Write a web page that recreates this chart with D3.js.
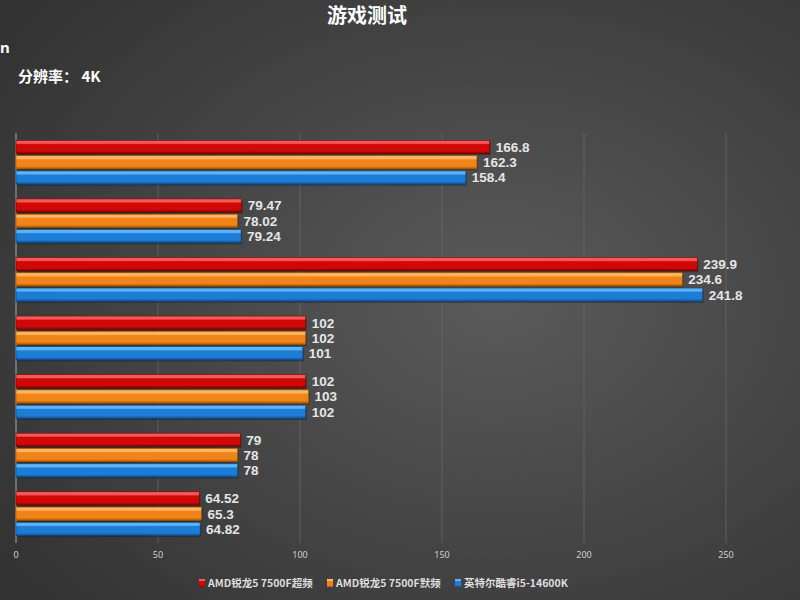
<!DOCTYPE html>
<html>
<head>
<meta charset="utf-8">
<script src="https://cdn.jsdelivr.net/npm/d3@7"></script>
<style>
  html, body { margin: 0; padding: 0; background: #3a3a3a; }
  svg { display: block; }
</style>
</head>
<body>
<div id="chart"></div>
<script>
// category labels sit outside the visible crop of the original
const categories = ["g1", "g2", "g3", "g4", "g5", "g6", "g7"];
const seriesNames = ["AMD锐龙5 7500F超频", "AMD锐龙5 7500F默频", "英特尔酷睿i5-14600K"];
const overclocked = [166.8, 79.47, 239.9, 102, 102, 79, 64.52];
const stock = [162.3, 78.02, 234.6, 102, 103, 78, 65.3];
const intel = [158.4, 79.24, 241.8, 101, 102, 78, 64.82];
const xTicks = [0, 50, 100, 150, 200, 250];

const width = 800, height = 600;
const colors = [
    { hi: "#f25a5a", main: "#d00808", low: "#7e0000" },
    { hi: "#ffb560", main: "#f08418", low: "#a85400" },
    { hi: "#5cb4f5", main: "#1c7cd6", low: "#0c4a8a" }
];

const svg = d3.select("#chart").append("svg")
    .attr("width", width)
    .attr("height", height);

const defs = svg.append("defs");

const bg = defs.append("radialGradient")
    .attr("id", "bg")
    .attr("cx", "0.62").attr("cy", "0.5").attr("r", "0.75");
bg.append("stop").attr("offset", "0").attr("stop-color", "#5a5a5a");
bg.append("stop").attr("offset", "1").attr("stop-color", "#333333");

colors.forEach((c, i) => {
    let g = defs.append("linearGradient")
        .attr("id", "bar" + i)
        .attr("x1", 0).attr("y1", 0).attr("x2", 0).attr("y2", 1);
    g.append("stop").attr("offset", "0").attr("stop-color", c.hi);
    g.append("stop").attr("offset", "0.22").attr("stop-color", c.hi);
    g.append("stop").attr("offset", "0.32").attr("stop-color", c.main);
    g.append("stop").attr("offset", "0.8").attr("stop-color", c.main);
    g.append("stop").attr("offset", "1").attr("stop-color", c.low);
});

svg.append("rect")
    .attr("width", width)
    .attr("height", height)
    .attr("fill", "url(#bg)");

const x = d3.scaleLinear()
    .domain([0, 250])
    .range([16, 726]);

const y = d3.scaleBand()
    .domain(categories)
    .range([133, 543])
    .paddingInner(0.25)
    .paddingOuter(0.125);

const ySub = d3.scaleBand()
    .domain(d3.range(seriesNames.length))
    .range([0, y.bandwidth()])
    .paddingInner(0.13);

// grid
svg.append("g")
    .selectAll(null)
    .data(xTicks.filter(t => t > 0))
    .join("line")
    .attr("x1", d => x(d)).attr("x2", d => x(d))
    .attr("y1", 133).attr("y2", 543)
    .attr("stroke", "#686868")
    .attr("stroke-width", 0.8);

svg.append("line")
    .attr("x1", x(0)).attr("x2", x(0))
    .attr("y1", 133).attr("y2", 543)
    .attr("stroke", "#a8a8a8")
    .attr("stroke-width", 1);

// tick labels
svg.append("g")
    .selectAll(null)
    .data(xTicks)
    .join("text")
    .attr("x", d => x(d))
    .attr("y", 558)
    .attr("text-anchor", "middle")
    .attr("font-family", "Noto Sans, sans-serif")
    .attr("font-size", 9)
    .attr("fill", "#cfcfcf")
    .text(d => d);

const series = [overclocked, stock, intel];
const rows = [];
categories.forEach((cat, ci) => {
    series.forEach((vals, si) => rows.push({ cat, si, value: vals[ci] }));
});

const bars = svg.append("g");

bars.selectAll(null)
    .data(rows)
    .join("rect")
    .attr("x", x(0) + 1)
    .attr("y", d => y(d.cat) + ySub(d.si) + 1.5)
    .attr("width", d => x(d.value) - x(0))
    .attr("height", ySub.bandwidth())
    .attr("fill", "#1e1e1e")
    .attr("opacity", 0.45);

bars.selectAll(null)
    .data(rows)
    .join("rect")
    .attr("x", x(0))
    .attr("y", d => y(d.cat) + ySub(d.si))
    .attr("width", d => x(d.value) - x(0))
    .attr("height", ySub.bandwidth())
    .attr("fill", d => "url(#bar" + d.si + ")")
    .attr("stroke", d => colors[d.si].low)
    .attr("stroke-width", 0.6);

bars.selectAll(null)
    .data(rows)
    .join("text")
    .attr("x", d => x(d.value) + 6)
    .attr("y", d => y(d.cat) + ySub(d.si) + ySub.bandwidth() / 2)
    .attr("dy", "0.36em")
    .attr("font-family", "Liberation Sans, Arial, sans-serif")
    .attr("font-weight", "bold")
    .attr("font-size", 13.5)
    .attr("fill", "#e6e6e6")
    .text(d => d.value);

// titles
svg.append("text")
    .attr("x", 367)
    .attr("y", 23)
    .attr("text-anchor", "middle")
    .attr("font-family", "Noto Sans CJK SC, sans-serif")
    .attr("font-weight", "bold")
    .attr("font-size", 20)
    .attr("fill", "#ffffff")
    .text("游戏测试");

svg.append("text")
    .attr("x", 0)
    .attr("y", 53)
    .attr("font-family", "Noto Sans, sans-serif")
    .attr("font-weight", "bold")
    .attr("font-size", 15)
    .attr("fill", "#ffffff")
    .text("n");

svg.append("text")
    .attr("x", 18)
    .attr("y", 82)
    .attr("font-family", "Noto Sans CJK SC, sans-serif")
    .attr("font-weight", "bold")
    .attr("font-size", 15)
    .attr("fill", "#ffffff")
    .text("分辨率： 4K");

// legend
const legendX = [199, 327, 455];
const legend = svg.append("g")
    .selectAll(null)
    .data(seriesNames)
    .join("g")
    .attr("transform", (d, i) => `translate(${legendX[i]},583)`);

legend.append("rect")
    .attr("x", 0).attr("y", -4)
    .attr("width", 6).attr("height", 8)
    .attr("fill", (d, i) => "url(#bar" + i + ")");

legend.append("text")
    .attr("x", 9)
    .attr("dy", "0.35em")
    .attr("font-family", "Noto Sans CJK SC, sans-serif")
    .attr("font-weight", "bold")
    .attr("font-size", 10.5)
    .attr("fill", "#dedede")
    .text(d => d);
</script>
</body>
</html>
